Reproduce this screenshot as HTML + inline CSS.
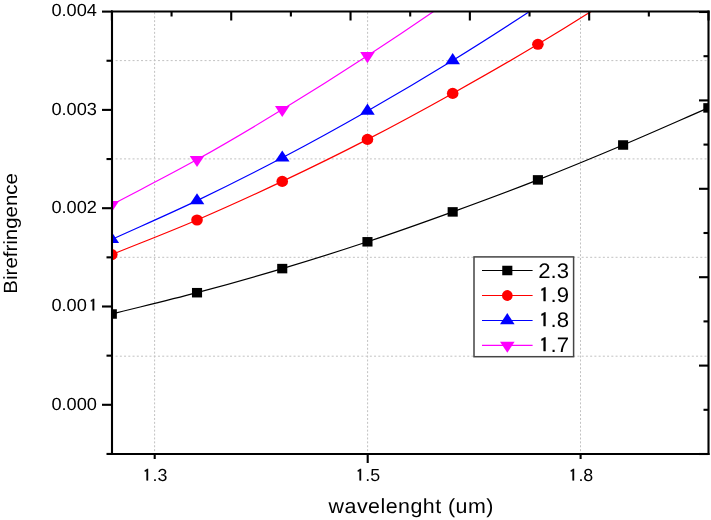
<!DOCTYPE html>
<html><head><meta charset="utf-8"><title>Birefringence vs wavelength</title>
<style>html,body{margin:0;padding:0;background:#fff;overflow:hidden}svg{display:block}</style>
</head><body>
<svg width="711" height="520" viewBox="0 0 711 520"><rect width="711" height="520" fill="#fff"/>
<g stroke="#c2c2c2" stroke-width="1" fill="none">
<path d="M115.6 60.60H707" stroke-dasharray="2 2.237"/>
<path d="M115.6 158.90H707" stroke-dasharray="2 2.237"/>
<path d="M115.6 257.30H707" stroke-dasharray="2 2.237"/>
<path d="M115.6 356.20H707" stroke-dasharray="2 2.237"/>
<path d="M154.60 12.35V453" stroke-dasharray="2 1.9"/>
<path d="M367.60 12.35V453" stroke-dasharray="2 1.9"/>
<path d="M580.50 12.35V453" stroke-dasharray="2 1.9"/>
</g>
<defs><clipPath id="c"><rect x="112.00" y="11.50" width="596.50" height="442.50"/></clipPath></defs>
<g clip-path="url(#c)">
<path d="M111.80 314.00 C140.21 306.90 168.61 300.27 197.02 292.70 C225.43 285.13 253.83 277.08 282.24 268.60 C310.65 260.12 339.05 251.25 367.46 241.80 C395.87 232.35 424.27 222.22 452.68 211.90 C481.09 201.58 509.49 191.05 537.90 179.90 C566.31 168.75 594.71 157.00 623.12 145.00 C651.53 133.00 679.93 120.27 708.34 107.90" fill="none" stroke="#000" stroke-width="1.2"/>
<path d="M111.80 254.60 C140.21 243.07 168.61 232.20 197.02 220.00 C225.43 207.80 253.83 194.83 282.24 181.40 C310.65 167.97 339.05 154.07 367.46 139.40 C395.87 124.73 424.27 109.25 452.68 93.40 C481.09 77.55 509.49 61.37 537.90 44.30 C566.31 27.23 594.71 9.38 623.12 -9.00 C651.53 -27.38 679.93 -47.00 708.34 -66.00" fill="none" stroke="#f00" stroke-width="1.2"/>
<path d="M111.80 239.40 C140.21 226.47 168.61 214.20 197.02 200.60 C225.43 187.00 253.83 172.73 282.24 157.80 C310.65 142.87 339.05 127.22 367.46 111.00 C395.87 94.78 424.27 78.00 452.68 60.50 C481.09 43.00 509.49 24.75 537.90 6.00 C566.31 -12.75 594.71 -32.67 623.12 -52.00" fill="none" stroke="#00f" stroke-width="1.2"/>
<path d="M111.80 204.70 C140.21 189.67 168.61 175.45 197.02 159.60 C225.43 143.75 253.83 126.90 282.24 109.60 C310.65 92.30 339.05 74.35 367.46 55.80 C395.87 37.25 424.27 18.10 452.68 -1.70 C481.09 -21.50 509.49 -42.57 537.90 -63.00" fill="none" stroke="#f0f" stroke-width="1.2"/>
<g fill="#000"><rect x="106.75" y="309.25" width="10.10" height="9.50"/><rect x="191.97" y="287.95" width="10.10" height="9.50"/><rect x="277.19" y="263.85" width="10.10" height="9.50"/><rect x="362.41" y="237.05" width="10.10" height="9.50"/><rect x="447.63" y="207.15" width="10.10" height="9.50"/><rect x="532.85" y="175.15" width="10.10" height="9.50"/><rect x="618.07" y="140.25" width="10.10" height="9.50"/><rect x="703.29" y="103.15" width="10.10" height="9.50"/></g>
<g fill="#f00"><ellipse cx="111.80" cy="254.60" rx="5.80" ry="5.55"/><ellipse cx="197.02" cy="220.00" rx="5.80" ry="5.55"/><ellipse cx="282.24" cy="181.40" rx="5.80" ry="5.55"/><ellipse cx="367.46" cy="139.40" rx="5.80" ry="5.55"/><ellipse cx="452.68" cy="93.40" rx="5.80" ry="5.55"/><ellipse cx="537.90" cy="44.30" rx="5.80" ry="5.55"/><ellipse cx="623.12" cy="-9.00" rx="5.80" ry="5.55"/><ellipse cx="708.34" cy="-66.00" rx="5.80" ry="5.55"/></g>
<g fill="#00f"><path d="M111.80 232.00L119.10 243.10L104.50 243.10Z"/><path d="M197.02 193.20L204.32 204.30L189.72 204.30Z"/><path d="M282.24 150.40L289.54 161.50L274.94 161.50Z"/><path d="M367.46 103.60L374.76 114.70L360.16 114.70Z"/><path d="M452.68 53.10L459.98 64.20L445.38 64.20Z"/><path d="M537.90 -1.40L545.20 9.70L530.60 9.70Z"/><path d="M623.12 -59.40L630.42 -48.30L615.82 -48.30Z"/></g>
<g fill="#f0f"><path d="M104.50 201.00L119.10 201.00L111.80 212.10Z"/><path d="M189.72 155.90L204.32 155.90L197.02 167.00Z"/><path d="M274.94 105.90L289.54 105.90L282.24 117.00Z"/><path d="M360.16 52.10L374.76 52.10L367.46 63.20Z"/><path d="M445.38 -5.40L459.98 -5.40L452.68 5.70Z"/><path d="M530.60 -66.70L545.20 -66.70L537.90 -55.60Z"/></g>
</g>
<g stroke="#000" stroke-width="2.1" fill="none" stroke-linecap="butt">
<path d="M112.00 10.50V455.00"/>
<path d="M708.50 10.50V455.00"/>
<path d="M111.00 11.50H709.50"/>
<path d="M111.00 454.00H709.50"/>
<path d="M102 11.60H112.00"/>
<path d="M102 109.90H112.00"/>
<path d="M102 208.20H112.00"/>
<path d="M102 306.50H112.00"/>
<path d="M102 404.80H112.00"/>
<path d="M106.5 60.75H112.00"/>
<path d="M106.5 159.05H112.00"/>
<path d="M106.5 257.35H112.00"/>
<path d="M106.5 355.65H112.00"/>
<path d="M106.5 453.95H112.00"/>
<path d="M699.00 454.00H708.50"/>
<path d="M703.50 409.80H708.50"/>
<path d="M699.00 365.60H708.50"/>
<path d="M703.50 321.40H708.50"/>
<path d="M699.00 277.20H708.50"/>
<path d="M703.50 233.00H708.50"/>
<path d="M699.00 188.80H708.50"/>
<path d="M703.50 144.60H708.50"/>
<path d="M699.00 100.40H708.50"/>
<path d="M703.50 56.20H708.50"/>
<path d="M699.00 12.00H708.50"/>
<path d="M111.90 11.50V20.50"/>
<path d="M171.56 11.50V16.50"/>
<path d="M231.22 11.50V20.50"/>
<path d="M290.88 11.50V16.50"/>
<path d="M350.54 11.50V20.50"/>
<path d="M410.20 11.50V16.50"/>
<path d="M469.86 11.50V20.50"/>
<path d="M529.52 11.50V16.50"/>
<path d="M589.18 11.50V20.50"/>
<path d="M648.84 11.50V16.50"/>
<path d="M708.50 11.50V20.50"/>
<path d="M154.70 454.00V459.00"/>
<path d="M367.70 454.00V463.00"/>
<path d="M580.60 454.00V459.00"/>
</g>
<rect x="474" y="256.9" width="99.6" height="99.8" fill="#fff" stroke="#444" stroke-width="1.5"/>
<path d="M482 270.50H532.6" stroke="#000" stroke-width="1.2"/>
<g fill="#000"><rect x="502.25" y="265.75" width="10.10" height="9.50"/></g>
<path d="M482 295.50H532.6" stroke="#f00" stroke-width="1.2"/>
<g fill="#f00"><ellipse cx="507.30" cy="295.50" rx="5.35" ry="5.40"/></g>
<path d="M482 320.50H532.6" stroke="#00f" stroke-width="1.2"/>
<g fill="#00f"><path d="M507.30 313.10L514.60 324.20L500.00 324.20Z"/></g>
<path d="M482 345.40H532.6" stroke="#f0f" stroke-width="1.2"/>
<g fill="#f0f"><path d="M500.00 341.70L514.60 341.70L507.30 352.80Z"/></g>
<text text-rendering="geometricPrecision" style="font-family:'Liberation Sans',Arial,sans-serif" font-size="17.60" transform="translate(51.40,15.80) scale(1.0350,1)">0.004</text>
<text text-rendering="geometricPrecision" style="font-family:'Liberation Sans',Arial,sans-serif" font-size="17.60" transform="translate(51.40,114.80) scale(1.0350,1)">0.003</text>
<text text-rendering="geometricPrecision" style="font-family:'Liberation Sans',Arial,sans-serif" font-size="17.60" transform="translate(51.40,212.90) scale(1.0350,1)">0.002</text>
<text text-rendering="geometricPrecision" style="font-family:'Liberation Sans',Arial,sans-serif" font-size="17.60" transform="translate(51.40,310.80) scale(1.0350,1)">0.00<tspan style="font-family:IPAGothic,sans-serif" stroke="#000" stroke-width="0.45" font-size="16.10" dx="2.00">1</tspan></text>
<text text-rendering="geometricPrecision" style="font-family:'Liberation Sans',Arial,sans-serif" font-size="17.60" transform="translate(51.40,410.05) scale(1.0350,1)">0.000</text>
<text text-rendering="geometricPrecision" style="font-family:'Liberation Sans',Arial,sans-serif" font-size="17.40" transform="translate(142.50,480.70) scale(1.0250,1)"><tspan style="font-family:IPAGothic,sans-serif" stroke="#000" stroke-width="0.45" font-size="15.92" dx="0.60">1</tspan><tspan dx="1.14">.3</tspan></text>
<text text-rendering="geometricPrecision" style="font-family:'Liberation Sans',Arial,sans-serif" font-size="17.40" transform="translate(355.30,480.90) scale(1.0250,1)"><tspan style="font-family:IPAGothic,sans-serif" stroke="#000" stroke-width="0.45" font-size="15.92" dx="0.70">1</tspan><tspan dx="1.04">.5</tspan></text>
<text text-rendering="geometricPrecision" style="font-family:'Liberation Sans',Arial,sans-serif" font-size="17.40" transform="translate(568.45,480.90) scale(1.0250,1)"><tspan style="font-family:IPAGothic,sans-serif" stroke="#000" stroke-width="0.45" font-size="15.92" dx="0.56">1</tspan><tspan dx="1.18">.8</tspan></text>
<text text-rendering="geometricPrecision" style="font-family:'Liberation Sans',Arial,sans-serif" font-size="21.00" transform="translate(538.20,278.00) scale(1.0550,1)">2.3</text>
<text text-rendering="geometricPrecision" style="font-family:'Liberation Sans',Arial,sans-serif" font-size="21.00" transform="translate(538.20,301.55) scale(1.0550,1)"><tspan style="font-family:IPAGothic,sans-serif" stroke="#000" stroke-width="0.45" font-size="19.21" dx="0.90">1</tspan><tspan dx="1.20">.9</tspan></text>
<text text-rendering="geometricPrecision" style="font-family:'Liberation Sans',Arial,sans-serif" font-size="21.00" transform="translate(538.20,326.80) scale(1.0550,1)"><tspan style="font-family:IPAGothic,sans-serif" stroke="#000" stroke-width="0.45" font-size="19.21" dx="0.90">1</tspan><tspan dx="1.20">.8</tspan></text>
<text text-rendering="geometricPrecision" style="font-family:'Liberation Sans',Arial,sans-serif" font-size="21.00" transform="translate(538.20,351.55) scale(1.0550,1)"><tspan style="font-family:IPAGothic,sans-serif" stroke="#000" stroke-width="0.45" font-size="19.21" dx="0.90">1</tspan><tspan dx="1.20">.7</tspan></text>
<text text-rendering="geometricPrecision" style="font-family:'Liberation Sans',Arial,sans-serif;letter-spacing:0.44px" font-size="20.54" transform="translate(328.59,512.74) scale(1.0433,1)">wavelenght (um)</text>
<text text-rendering="geometricPrecision" style="font-family:'Liberation Sans',Arial,sans-serif" font-size="19.08" transform="translate(17.01,293.63) rotate(-90) scale(1.0730,1)">Birefringence</text></svg>
</body></html>
